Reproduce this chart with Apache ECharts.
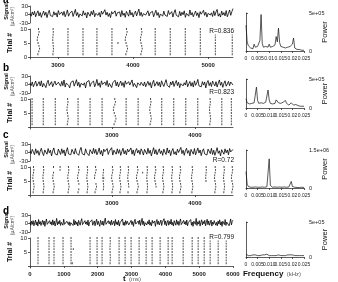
<!DOCTYPE html>
<html>
<head>
<meta charset="utf-8">
<script src="https://cdn.jsdelivr.net/npm/echarts@6/dist/echarts.min.js"></script>
<style>
  * { margin: 0; padding: 0; }
  body { background: #fff; }
  #chart { width: 338px; height: 282px; }
</style>
</head>
<body>
<div id="chart"></div>
<script>
// signal traces (uA/cm^2), evenly sampled over each panel's time window
const signalA = [3,-6,9,-2,11,-8,4,13,-5,7,-10,2,12,-3,8,-11,5,15,-4,1,
  -7,10,-2,6,-9,14,0,-5,9,-3,11,-8,3,16,-6,4,-1,12,-7,5,
  18,-4,7,-10,2,9,-5,13,-2,6,-12,8,3,-6,11,-1,15,-8,4,10,
  -3,7,-9,12,1,-5,17,-2,8,-7,4,-11,10,2,-4,13,-6,6,-1,9,
  -8,14,-3,5,-10,11,3,-6,16,-2,7,-9,4,12,-5,1,19,-4,8,-7,
  3,10,-2,-9,13,-5,6,-1,11,-8,4,15,-3,7,-11,2,9,-6,12,-2,
  5,-7,14,0,-4,10,-9,6,17,-3,2,-8,11,-5,8,-1,13,-10,4,9,
  -6,16,-2,7,-8,3,12,-4,6,-11,10,1,-5,15,-3,8,-9,4,11,-2,
  6,-7,13,-4,9,18,-6,3,-9,12,-2,7,-5,14,-8,4,16,-3,10,21]
const signalB = [5,-4,9,-8,3,12,-6,2,10,-5,13,-9,4,7,-11,6,15,-4,1,10,
  -8,3,12,-2,-9,8,1,-6,11,-4,16,-9,5,8,-3,-12,7,2,13,-6,
  1,17,-5,8,-10,4,11,-2,6,-12,9,3,14,-7,5,-1,12,-8,2,18,
  -4,6,-10,13,0,-6,9,-3,14,-8,4,11,-11,6,-1,15,-5,9,-8,3,
  12,-4,7,-10,13,1,-6,10,-2,5,16,-7,4,9,-11,6,12,-3,8,14,
  -5,9,-8,2,11,-3,7,-12,5,15,-6,1,10,-4,8,-9,13,2,-7,6,
  17,-3,4,-10,9,-1,12,-7,5,14,-4,8,-11,3,10,-5,6,-2,15,-8,
  2,11,-6,7,-9,13,-3,5,18,-5,1,-8,10,-2,9,-12,6,14,-4,7,
  -7,12,3,-5,10,-9,5,16,-3,8,-10,4,13,-6,2,11,-4,9,15,-2]
const signalC = [6,-4,11,2,-8,13,-3,7,-10,4,15,-2,-11,9,3,-6,14,-1,8,-12,
  5,16,-4,2,-9,12,6,-7,13,-3,9,-12,4,17,-5,1,-8,11,7,-6,
  14,-2,5,-10,8,18,-4,3,-9,13,-1,6,-11,10,4,-5,15,-3,11,-8,
  2,16,-6,7,-12,12,3,-4,14,-7,5,-2,17,-9,8,1,-6,13,-3,10,
  -10,4,15,-5,7,-8,12,2,-4,16,-6,9,-11,6,14,-2,8,-7,13,4,
  -9,11,5,-6,15,-3,8,-12,3,17,-5,10,-8,2,13,-4,6,-10,12,1,
  -7,16,-2,9,-11,5,14,-6,3,-9,12,0,-5,18,-4,8,-10,6,15,-3,
  7,-12,11,2,-6,14,-8,4,16,-2,9,-11,5,13,-5,1,-9,12,6,-4,
  15,-7,8,-10,3,17,-3,6,-12,10,4,-6,13,-1,9,-8,14,2,-5,11]
const signalD = [4,-6,8,-3,10,-8,2,12,-5,6,-9,14,-2,7,-7,3,11,-4,9,-10,
  5,16,-3,1,-8,10,-2,6,-6,13,-4,8,-9,3,18,-5,7,-2,11,-7,
  4,9,-6,15,-3,2,-10,8,12,-4,6,-8,3,10,-1,-7,14,-5,9,-3,
  5,-9,11,2,-6,8,17,-4,3,-8,10,-2,6,-5,12,-9,4,7,-3,13,
  -6,1,9,-8,5,15,-4,8,-2,-10,11,3,-5,9,-7,6,19,-3,4,-9,
  10,-1,7,-6,12,-4,2,8,-8,14,-3,6,-5,11,-9,3,9,-2,16,-6,
  5,-7,10,-3,8,13,-5,2,-8,11,-4,7,-10,6,15,-2,4,-6,9,-3,
  12,-7,5,18,-4,8,-9,3,10,-5,7,-2,13,-6,4,-8,11,1,-4,9,
  -10,6,14,-3,8,-5,2,12,-7,5,-1,17,-4,9,-8,3,11,-6,7,-2,
  15,-5,4,-9,10,2,-6,13,-3,8,-7,6,16,-4,1,-9,11,-2,7,-5,
  12,-8,3,9,-4,14,-6,5,-10,8,1,-3,18,-7,6,-2,10,-9,4,13,
  -5,7,-1,11,-8,3,15,-4,9,-6,2,12,-9,5,-3,10,17,-6,4,-8,
  9,-2,13,-5,6,-10,8,2,-4,14,-7,5,-1,11,-8,3,16,-5,7,12]

// raster: burst times (ms), one column of spikes (trials 1..10) per burst
const burstsA = [2735,2935,3135,3335,3520,3720,3905,4105,4295,4495,4695,4895,5095,5320]
const bendA = [1,0.3,0,0,0,0,1,0.8,0,0,0,0,0,0]
const strayA = [[3800, 5]]
const burstsB = [2035,2170,2315,2460,2590,2735,2880,3025,3170,3315,3460,3600,3745,3890,4035,4180,4325,4440]
const bendB = [0,0,0,0.5,0,0,0,1,0,0,0.6,0,0,0,0,0.4,0,0]
const strayB = []
const burstsC = [2048,2169,2289,2373,2470,2590,2699,2795,2892,3000,3096,3193,3301,3422,3518,3614,3723,3819,3964,4133,4241,4349,4446]
const bendC = [0.5,0.4,0.6,0,0.5,0.7,0.4,0.8,0.3,0.6,0.5,0.4,0.7,0.3,0.6,0.5,0.4,0.6,0.5,0.3,0.5,0.4,0.6]
// which trials (1..10, left to right) fire in each burst of panel c
const maskC = ['1111111111','1111111111','1111111101','0000000011','1111111111','1101111111','1111111111','1111011111',
  '0111111110','1111111111','1111111111','1011111111','1111111111','1111111111','0011111111','1111111111',
  '1111111111','1111111111','1111111111','0000111111','1111111111','1111111111','1111111111']
const strayC = [[2900, 6],[3370, 8]]
const burstsD = [237,562,710,976,1213,1775,1982,2130,2367,2633,2811,2988,3225,3432,3609,3846,4083,4201,4527,4793,4970,5148,5325,5562,5799]
const bendD = [0,0,0,0,0,0,0,0,0.3,0,0,0,0,0,0,0,0,0,0,0,0,0,0,0,0]
const strayD = [[1280, 6],[1250, 1]]
const trialShape = [0,12,22,14,2,-8,-4,8,16,8] // ms offset per trial for bent columns

// power spectra in units of 1e5, sampled every 0.0005 kHz from 0 to 0.025
const specA = [3.4,1.2,0.7,0.5,0.4,0.6,0.3,0.9,0.5,0.4,0.6,0.5,1.4,4.8,1.0,0.5,0.4,0.6,0.4,0.5,
  0.9,0.5,0.4,0.6,0.5,0.8,1.9,1.2,3.0,1.1,0.6,0.4,0.5,0.3,0.4,0.3,0.5,0.4,0.6,0.8,
  0.9,1.7,0.4,0.3,0.2,0.3,0.2,0.2,0.1,0.2,0.1]
const specB = [1.6,0.9,0.8,0.7,0.9,0.8,0.7,0.9,1.2,3.6,1.3,0.8,0.7,0.9,1.1,0.8,0.7,1.0,1.2,3.1,
  1.4,0.8,0.9,0.7,1.0,0.8,1.4,1.7,0.9,0.7,0.8,0.6,1.0,0.7,1.3,0.8,0.6,0.5,0.6,0.9,
  0.6,0.5,0.4,0.6,0.5,0.4,0.5,0.3,0.4,0.3,0.3]
const specC = [6.5,1.5,0.6,0.4,0.3,0.4,0.3,0.3,0.4,0.3,0.3,0.4,0.3,0.3,0.4,0.3,0.3,0.4,0.5,1.2,
  11.5,1.0,0.4,0.3,0.3,0.4,0.3,0.3,0.3,0.4,0.3,0.3,0.3,0.4,0.3,0.3,0.3,0.4,0.8,2.6,
  0.6,0.3,0.3,0.3,0.2,0.3,0.2,0.2,0.3,0.2,0.2]
const specD = [0.4,0.3,0.2,0.3,0.2,0.3,0.3,0.2,0.3,0.4,0.2,0.3,0.2,0.3,0.3,0.2,0.3,0.2,0.4,0.3,
  0.2,0.3,0.2,0.3,0.2,0.3,0.2,0.3,0.3,0.2,0.2,0.3,0.2,0.3,0.2,0.2,0.3,0.2,0.3,0.2,
  0.3,0.2,0.2,0.3,0.2,0.2,0.2,0.3,0.2,0.2,0.2]
const specStep = 0.0005
const specScale = 1e5

const panelNames = ['a', 'b', 'c', 'd']
const rLabels = ['R=0.836', 'R=0.823', 'R=0.72', 'R=0.799']
const specTopValues = [5e5, 5e5, 1.5e6, 5e5]
const specTopLabels = ['5e+05', '5e+05', '1.5e+06', '5e+05']
const freqTicks = [0, 0.005, 0.01, 0.015, 0.02, 0.025]
const freqLabelsA = ['0', '0.005', '0.01', '0.015', '0.02', '0.025']
const freqLabels = ['0', '0.005', '0.010', '0.015', '0.02', '0.025']
const timeTicks = [[3000, 4000, 5000], [3000, 4000], [3000, 4000], [0, 1000, 2000, 3000, 4000, 5000, 6000]]
const trialTicks = [[0, 5, 10], [5, 10], [5, 10], [5, 10]]

const panels = [
  {base: 59, tMin: 2630, tMax: 5330, sig: signalA, bursts: burstsA, bend: bendA, stray: strayA, spec: specA, fl: freqLabelsA, sTop: 13, sH: 38, letterY: 0, rY: 31},
  {base: 129, tMin: 2010, tMax: 4460, sig: signalB, bursts: burstsB, bend: bendB, stray: strayB, spec: specB, fl: freqLabels, sTop: 79, sH: 29, letterY: 68, rY: 92},
  {base: 197, tMin: 2010, tMax: 4460, sig: signalC, bursts: burstsC, bend: bendC, stray: strayC, mask: maskC, spec: specC, fl: freqLabels, sTop: 150, sH: 38, letterY: 135, rY: 160},
  {base: 268, tMin: 0, tMax: 6000, sig: signalD, bursts: burstsD, bend: bendD, stray: strayD, spec: specD, fl: freqLabels, sTop: 222, sH: 35, letterY: 211, rY: 237}
]

const font = '"Liberation Sans", Arial, sans-serif'
const ink = '#222'
const axLine = {show: true, lineStyle: {color: '#333', width: 0.8}}
const tickStyle = {color: '#333', width: 0.8}
const plain = v => String(v)

const grid = [], xAxis = [], yAxis = [], series = [], graphic = []

panels.forEach((p, k) => {
  const B = p.base
  const gs = 3 * k, gr = 3 * k + 1, gp = 3 * k + 2

  // signal trace
  grid.push({left: 30, width: 203, top: B - 53, height: 17})
  xAxis.push({type: 'value', gridIndex: gs, min: p.tMin, max: p.tMax, show: false})
  yAxis.push({
    type: 'value', gridIndex: gs, min: -30, max: 30,
    axisLine: axLine,
    axisTick: {show: true, length: 2, customValues: [-30, 0, 30], lineStyle: tickStyle},
    axisLabel: {customValues: [-30, 0, 30], fontSize: 6, margin: 2, color: ink, fontFamily: font, formatter: plain},
    splitLine: {show: false}
  })
  const dt = (p.tMax - p.tMin) / (p.sig.length - 1)
  series.push({
    type: 'line', xAxisIndex: gs, yAxisIndex: gs, showSymbol: false, silent: true,
    lineStyle: {color: '#000', width: 0.8},
    data: p.sig.map((v, i) => [p.tMin + i * dt, v])
  })

  // spike raster
  grid.push({left: 30, width: 203, top: B - 30, height: 30})
  xAxis.push({
    type: 'value', gridIndex: gr, min: p.tMin, max: p.tMax,
    axisLine: axLine,
    axisTick: {show: true, length: 2, customValues: timeTicks[k], lineStyle: tickStyle},
    axisLabel: {customValues: timeTicks[k], fontSize: 6, margin: 3, color: ink, fontFamily: font, fontWeight: 'bold', formatter: plain},
    splitLine: {show: false}
  })
  yAxis.push({
    type: 'value', gridIndex: gr, min: -0.7, max: 10,
    axisLine: axLine,
    axisTick: {show: true, length: 2, customValues: [0, 5, 10], lineStyle: tickStyle},
    axisLabel: {customValues: trialTicks[k], fontSize: 6, margin: 3, color: ink, fontFamily: font, formatter: plain},
    splitLine: {show: false}
  })
  const spikes = []
  p.bursts.forEach((t, j) => {
    for (let tr = 1; tr <= 10; tr++) {
      if (p.mask && p.mask[j][tr - 1] !== '1') continue
      spikes.push([t + trialShape[tr - 1] * p.bend[j], tr])
    }
  })
  p.stray.forEach(s => spikes.push(s))
  series.push({
    type: 'scatter', xAxisIndex: gr, yAxisIndex: gr, silent: true,
    symbol: 'rect', symbolSize: [1, 1.8],
    itemStyle: {color: '#1a1a1a'},
    data: spikes
  })

  // power spectrum
  grid.push({left: 246, width: 58, top: p.sTop, height: p.sH})
  xAxis.push({
    type: 'value', gridIndex: gp, min: 0, max: 0.025, offset: 2,
    axisLine: axLine,
    axisTick: {show: true, length: 2, customValues: freqTicks, lineStyle: tickStyle},
    axisLabel: {customValues: freqTicks, fontSize: 5, margin: 3, color: ink, fontFamily: font,
      formatter: v => p.fl[Math.round(v / 0.005)]},
    splitLine: {show: false}
  })
  yAxis.push({
    type: 'value', gridIndex: gp, position: 'right', offset: 3, min: 0, max: specTopValues[k],
    axisLine: axLine,
    axisTick: {show: true, length: 2, customValues: [0, specTopValues[k]], lineStyle: tickStyle},
    axisLabel: {customValues: [0, specTopValues[k]], fontSize: 5.5, margin: 2, color: ink, fontFamily: font,
      formatter: v => v === 0 ? '0' : specTopLabels[k]},
    splitLine: {show: false}
  })
  series.push({
    type: 'line', xAxisIndex: gp, yAxisIndex: gp, showSymbol: false, silent: true,
    lineStyle: {color: '#111', width: 0.7},
    data: p.spec.map((v, i) => [i * specStep, v * specScale])
  })

  // texts
  const sigMid = B - 44.5
  graphic.push(
    {type: 'text', x: 3, y: p.letterY, style: {text: panelNames[k], font: 'bold 10px ' + font, fill: '#000', verticalAlign: 'middle'}},
    {type: 'text', x: 6, y: sigMid - 3, rotation: Math.PI / 2, style: {text: 'Signal', font: 'bold 5.5px ' + font, fill: '#111', align: 'center', verticalAlign: 'middle'}},
    {type: 'text', x: 13, y: sigMid + 2, rotation: Math.PI / 2, style: {text: '(\u03bcA/cm\u00b2)', font: '5px ' + font, fill: '#555', align: 'center', verticalAlign: 'middle'}},
    {type: 'text', x: 10, y: B - 16, rotation: Math.PI / 2, style: {text: 'Trial #', font: 'bold 7px ' + font, fill: '#111', align: 'center', verticalAlign: 'middle'}},
    {type: 'text', x: 234, y: p.rY, z: 10, style: {text: rLabels[k], font: '6.5px ' + font, fill: '#111', align: 'right', verticalAlign: 'middle', backgroundColor: '#fff'}},
    {type: 'text', x: 325, y: p.sTop + p.sH / 2, rotation: Math.PI / 2, style: {text: 'Power', font: '7.5px ' + font, fill: '#111', align: 'center', verticalAlign: 'middle'}}
  )
})

graphic.push(
  {type: 'text', x: 132, y: 279, style: {text: '{b|t} {s|(ms)}', align: 'center', verticalAlign: 'middle',
    rich: {b: {font: 'bold 8px ' + font, fill: '#111'}, s: {font: '6px ' + font, fill: '#555'}}}},
  {type: 'text', x: 272, y: 274, style: {text: '{b|Frequency} {s|(kHz)}', align: 'center', verticalAlign: 'middle',
    rich: {b: {font: 'bold 8px ' + font, fill: '#111'}, s: {font: '6px ' + font, fill: '#555'}}}}
)

const chart = echarts.init(document.getElementById('chart'))
chart.setOption({
  animation: false,
  grid: grid,
  xAxis: xAxis,
  yAxis: yAxis,
  series: series,
  graphic: graphic
})
</script>
</body>
</html>
